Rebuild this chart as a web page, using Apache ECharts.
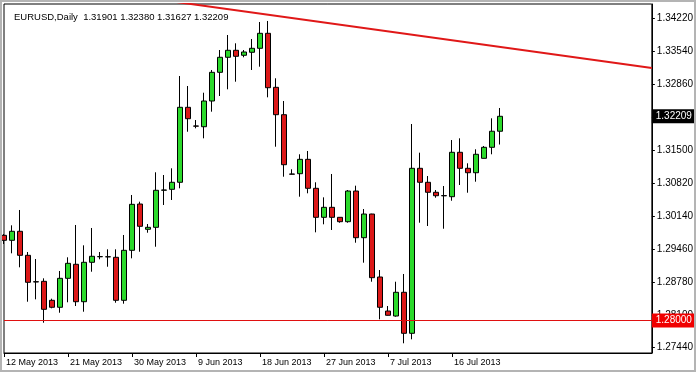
<!DOCTYPE html>
<html>
<head>
<meta charset="utf-8">
<script src="https://cdn.jsdelivr.net/npm/echarts@6/dist/echarts.min.js"></script>
<style>
html,body{margin:0;padding:0;background:#fff;}
#c{width:696px;height:372px;}
</style>
</head>
<body>
<div id="c"></div>
<script>
var symbolName = 'EURUSD,Daily';
var dates = [
 '12 May 2013','13 May 2013','14 May 2013','15 May 2013','16 May 2013','17 May 2013',
 '19 May 2013','20 May 2013','21 May 2013','22 May 2013','23 May 2013','24 May 2013',
 '26 May 2013','27 May 2013','28 May 2013','29 May 2013','30 May 2013','31 May 2013',
 '2 Jun 2013','3 Jun 2013','4 Jun 2013','5 Jun 2013','6 Jun 2013','7 Jun 2013',
 '9 Jun 2013','10 Jun 2013','11 Jun 2013','12 Jun 2013','13 Jun 2013','14 Jun 2013',
 '16 Jun 2013','17 Jun 2013','18 Jun 2013','19 Jun 2013','20 Jun 2013','21 Jun 2013',
 '23 Jun 2013','24 Jun 2013','25 Jun 2013','26 Jun 2013','27 Jun 2013','28 Jun 2013',
 '30 Jun 2013','1 Jul 2013','2 Jul 2013','3 Jul 2013','4 Jul 2013','5 Jul 2013',
 '7 Jul 2013','8 Jul 2013','9 Jul 2013','10 Jul 2013','11 Jul 2013','12 Jul 2013',
 '14 Jul 2013','15 Jul 2013','16 Jul 2013','17 Jul 2013','18 Jul 2013','19 Jul 2013',
 '21 Jul 2013','22 Jul 2013','23 Jul 2013'
];
var emptySlots = 19;
var opens = [1.29756,1.29653,1.29839,1.29344,1.28800,1.28808,1.28417,1.28273,1.28870,1.29159,
 1.28388,1.29200,1.29315,1.29315,1.29303,1.28417,1.29447,1.30401,1.29880,1.29921,
 1.30686,1.30704,1.30849,1.32394,1.32009,1.31994,1.32524,1.33115,1.33425,1.33569,
 1.33466,1.33528,1.33610,1.33919,1.32806,1.32242,1.31020,1.31026,1.31322,1.30725,
 1.30127,1.30333,1.30127,1.30037,1.30669,1.29707,1.30195,1.28897,1.28196,1.28093,
 1.28582,1.27737,1.31137,1.30849,1.30643,1.30575,1.30552,1.31467,1.31137,1.31046,
 1.31343,1.31570,1.31901];
var closes = [1.29653,1.29839,1.29344,1.28788,1.28795,1.28231,1.28273,1.28870,1.29179,1.28388,
 1.29200,1.29324,1.29318,1.29312,1.28417,1.29447,1.30395,1.29942,1.29921,1.30684,
 1.30690,1.30849,1.32394,1.32159,1.32006,1.32524,1.33115,1.33425,1.33569,1.33445,
 1.33534,1.33610,1.33919,1.32798,1.32242,1.31211,1.31015,1.31322,1.30725,1.30127,
 1.30333,1.30127,1.30037,1.30669,1.29707,1.30195,1.28883,1.28273,1.28108,1.28582,
 1.27737,1.31137,1.30849,1.30643,1.30572,1.30570,1.31467,1.31137,1.31046,1.31426,
 1.31570,1.31901,1.32209];
var lows = [1.29577,1.29385,1.29097,1.28388,1.28437,1.27955,1.28252,1.28161,1.28376,1.28299,
 1.28182,1.29006,1.29262,1.29109,1.28367,1.28347,1.29282,1.29418,1.29810,1.29521,
 1.30381,1.30484,1.30725,1.31891,1.31961,1.31755,1.32304,1.32627,1.32765,1.32922,
 1.33425,1.33163,1.33231,1.32600,1.31582,1.30964,1.31010,1.30552,1.30622,1.29818,
 1.29983,1.29866,1.30016,1.30016,1.29604,1.29192,1.28800,1.28025,1.28104,1.28079,
 1.27531,1.27613,1.30016,1.29948,1.30531,1.29892,1.30469,1.30793,1.30634,1.30861,
 1.31340,1.31426,1.31627];
var highs = [1.29783,1.29962,1.30278,1.29412,1.29268,1.28870,1.28450,1.29021,1.29303,1.29969,
 1.29550,1.29907,1.29412,1.29468,1.29468,1.29763,1.30587,1.30449,1.29989,1.31055,
 1.30999,1.31137,1.33039,1.32833,1.32132,1.32695,1.33163,1.33575,1.33884,1.33713,
 1.33575,1.33802,1.34152,1.34173,1.32992,1.32524,1.31117,1.31426,1.31494,1.30849,
 1.30539,1.31020,1.30130,1.30690,1.30779,1.30298,1.30200,1.29041,1.28299,1.28800,
 1.28959,1.32050,1.31459,1.30978,1.30690,1.30772,1.31720,1.31755,1.31240,1.31529,
 1.31597,1.32167,1.32380];
var yTickValues = [1.27440,1.28100,1.28780,1.29460,1.30140,1.30820,1.31500,1.32180,1.32860,1.33540,1.34220];
var supportLevel = 1.28000;
var trendIdx = [20, 81];
var trendVal = [1.34600, 1.33204];
var yMin = 1.27331, yMax = 1.34523;
var dateLabelStep = 8;

var cats = dates.slice();
for (var k = 0; k < emptySlots; k++) cats.push('');
var lastSlot = cats.length - 1;
var candleData = opens.map(function(o, i){ return [o, closes[i], lows[i], highs[i]]; });
var last = opens.length - 1;
var lastClose = closes[last];
var titleText = symbolName + '  ' + opens[last].toFixed(5) + ' ' + highs[last].toFixed(5) + ' ' +
  lows[last].toFixed(5) + ' ' + closes[last].toFixed(5);
var FONT = 'Liberation Sans';
function showDate(i){ return i % dateLabelStep === 0 && i < dates.length - 2 && cats[i] !== ''; }

function priceTag(value, bg){
  return {
    coord: [lastSlot, value],
    symbol: 'rect', symbolSize: [44, 14], symbolOffset: [22, 0],
    itemStyle: {color: bg},
    label: {show: true, position: 'inside', formatter: value.toFixed(5), color: '#fff', fontSize: 10, fontFamily: FONT}
  };
}

var chart = echarts.init(document.getElementById('c'), null, {renderer:'canvas'});
chart.setOption({
  animation: false,
  backgroundColor: '#ffffff',
  title: {
    text: titleText, left: 9, top: 7,
    textStyle: {fontSize: 9.5, fontWeight: 'normal', fontFamily: FONT, color: '#000'}
  },
  graphic: [{
    type: 'rect', silent: true, z: 100,
    shape: {x: 1, y: 1, width: 694, height: 370},
    style: {fill: 'none', stroke: '#b4b4b4', lineWidth: 2}
  }],
  grid: {left: 4, right: 44, top: 4, bottom: 19, show: true, borderColor: '#000', borderWidth: 1, backgroundColor: '#fff'},
  xAxis: {
    type: 'category', data: cats, boundaryGap: false,
    axisLine: {show: true, lineStyle: {color: '#000', width: 1}},
    axisTick: {show: true, length: 4, interval: function(i){ return showDate(i); }, lineStyle: {color: '#000'}},
    axisLabel: {interval: function(i){ return showDate(i); }, align: 'left', fontSize: 9, fontFamily: FONT, color: '#000', margin: 5, padding: [0,0,0,2]},
    splitLine: {show: false}
  },
  yAxis: {
    type: 'value', position: 'right', min: yMin, max: yMax, scale: true,
    axisLine: {show: true, lineStyle: {color: '#000'}},
    axisTick: {show: true, length: 3, customValues: yTickValues, lineStyle: {color: '#000'}},
    axisLabel: {customValues: yTickValues, formatter: function(v){ return v.toFixed(5); }, fontSize: 10, fontFamily: FONT, color: '#000', margin: 5},
    splitLine: {show: false}
  },
  series: [{
    type: 'candlestick',
    data: candleData,
    barWidth: 5,
    clip: true,
    itemStyle: {color: '#2bd92b', color0: '#dc1818', borderColor: '#000', borderColor0: '#000', borderWidth: 1},
    markLine: {
      silent: true, symbol: 'none', animation: false,
      label: {show: false},
      data: [
        {yAxis: supportLevel, lineStyle: {color: '#e01010', width: 1, type: 'solid'}}
      ]
    },
    markPoint: {
      silent: true, animation: false,
      data: [priceTag(supportLevel, '#f00000'), priceTag(lastClose, '#000000')]
    }
  }, {
    type: 'line',
    data: [[trendIdx[0], trendVal[0]], [trendIdx[1], trendVal[1]]],
    symbol: 'none', clip: true, silent: true,
    lineStyle: {color: '#e01818', width: 2}
  }]
});
</script>
</body>
</html>
